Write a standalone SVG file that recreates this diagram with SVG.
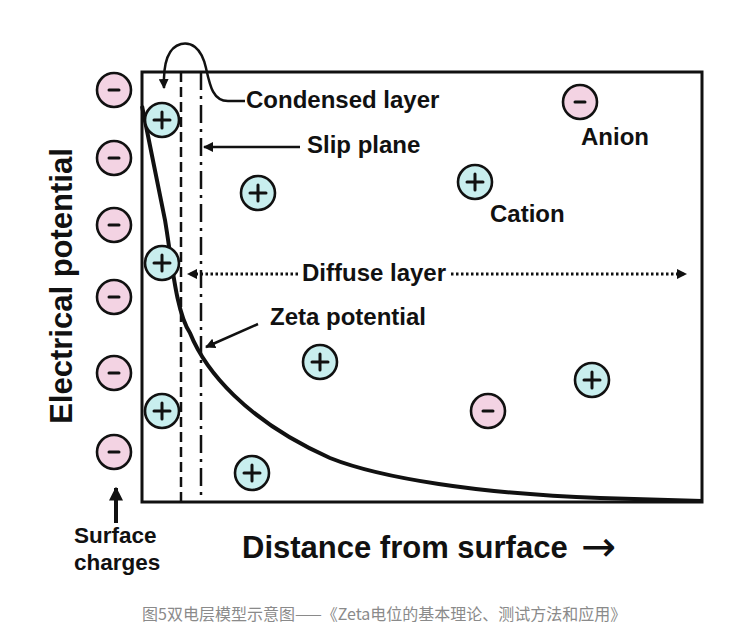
<svg xmlns="http://www.w3.org/2000/svg" width="738" height="644" viewBox="0 0 738 644">
<style>
.lbl{font-family:"Liberation Sans",Arial,sans-serif;font-weight:bold;font-size:24px;fill:#111}
.sm{font-size:22.5px}
.big{font-family:"Liberation Sans",Arial,sans-serif;font-weight:bold;font-size:31px;fill:#111}
.cap{font-family:"Noto Sans CJK SC","Liberation Sans",sans-serif;font-size:16px;fill:#8a8a8a}
.an{fill:#f3d3e3;stroke:#111;stroke-width:2.6}
.ca{fill:#c8eeee;stroke:#111;stroke-width:2.6}
.sg{stroke:#111;stroke-width:3;stroke-linecap:round;fill:none}
.ln{stroke:#111;stroke-width:2.5;fill:none}
</style>
<defs>
<marker id="ah" viewBox="0 0 10 10" refX="9" refY="5" markerWidth="4" markerHeight="4" orient="auto" markerUnits="strokeWidth">
<path d="M0,0 L10,5 L0,10 Z" fill="#111"/>
</marker>
<marker id="ahs" viewBox="0 0 10 10" refX="9" refY="5" markerWidth="3.5" markerHeight="3.5" orient="auto" markerUnits="strokeWidth">
<path d="M0,0 L10,5 L0,10 Z" fill="#111"/>
</marker>
<g id="anion"><circle r="17" class="an"/><line x1="-5" y1="0" x2="5" y2="0" class="sg" stroke-width="4"/></g>
<g id="cation"><circle r="17" class="ca"/><line x1="-8" y1="0" x2="8" y2="0" class="sg"/><line x1="0" y1="-8" x2="0" y2="8" class="sg"/></g>
</defs>
<rect width="738" height="644" fill="#fff"/>

<g id="plot">
<rect x="142" y="72" width="560" height="430" fill="none" stroke="#111" stroke-width="3"/>
<line id="condensed-boundary" x1="181" y1="72" x2="181" y2="502" stroke="#111" stroke-width="2.5" stroke-dasharray="10 5"/>
<line id="slip-boundary" x1="201" y1="72" x2="201" y2="502" stroke="#111" stroke-width="2.5" stroke-dasharray="18 6 3 6"/>
<path id="potential-curve" d="M142,106 L165,220 C172,262 176,312 190,333 C205,370 245,420 330,458 C380,478 480,494 600,498 L702,501" fill="none" stroke="#111" stroke-width="4"/>
</g>

<g id="surface-charges">
<use href="#anion" x="114" y="90"/>
<use href="#anion" x="114" y="158"/>
<use href="#anion" x="114" y="225"/>
<use href="#anion" x="114" y="297"/>
<use href="#anion" x="114" y="373"/>
<use href="#anion" x="114" y="452"/>
</g>

<g id="ions">
<use href="#cation" x="162" y="120"/>
<use href="#cation" x="162" y="263"/>
<use href="#cation" x="162" y="411"/>
<use href="#cation" x="258" y="193"/>
<use href="#cation" x="320" y="362"/>
<use href="#cation" x="252" y="473"/>
<use href="#cation" x="475" y="182"/>
<use href="#cation" x="592" y="380"/>
<use href="#anion" x="580" y="102"/>
<use href="#anion" x="488" y="411"/>
</g>

<g id="connectors">
<path d="M245,101 L228,101 C213,101 210,86 206,68 C201,46 190,42 181,44 C169,47 163,62 164,88" class="ln" marker-end="url(#ah)"/>
<line x1="300" y1="147" x2="204" y2="147" class="ln" marker-end="url(#ah)"/>
<line x1="258" y1="324" x2="206" y2="347" class="ln" marker-end="url(#ah)"/>
<line x1="298" y1="274" x2="188" y2="274" stroke="#111" stroke-width="3" stroke-dasharray="2.5 2.5" marker-end="url(#ahs)"/>
<line x1="451" y1="274" x2="686" y2="274" stroke="#111" stroke-width="3" stroke-dasharray="2.5 2.5" marker-end="url(#ahs)"/>
<line x1="116" y1="523" x2="116" y2="488" stroke="#111" stroke-width="4" marker-end="url(#ahs)"/>
</g>

<g id="labels">
<text x="246" y="108" class="lbl">Condensed layer</text>
<text x="307" y="153" class="lbl">Slip plane</text>
<text x="581" y="145" class="lbl">Anion</text>
<text x="490" y="222" class="lbl">Cation</text>
<text x="302" y="281" class="lbl">Diffuse layer</text>
<text x="270" y="325" class="lbl">Zeta potential</text>
<text x="74" y="543" class="lbl sm">Surface</text>
<text x="74" y="570" class="lbl sm">charges</text>
<text x="242" y="558" class="big">Distance from surface <tspan x="581" y="561" style="font-family:'DejaVu Sans',sans-serif;font-weight:normal;font-size:42px">→</tspan></text>
<text transform="translate(72,286) rotate(-90)" text-anchor="middle" class="big">Electrical potential</text>
<text x="142" y="620" class="cap">图5双电层模型示意图——《Zeta电位的基本理论、测试方法和应用》</text>
</g>
</svg>
